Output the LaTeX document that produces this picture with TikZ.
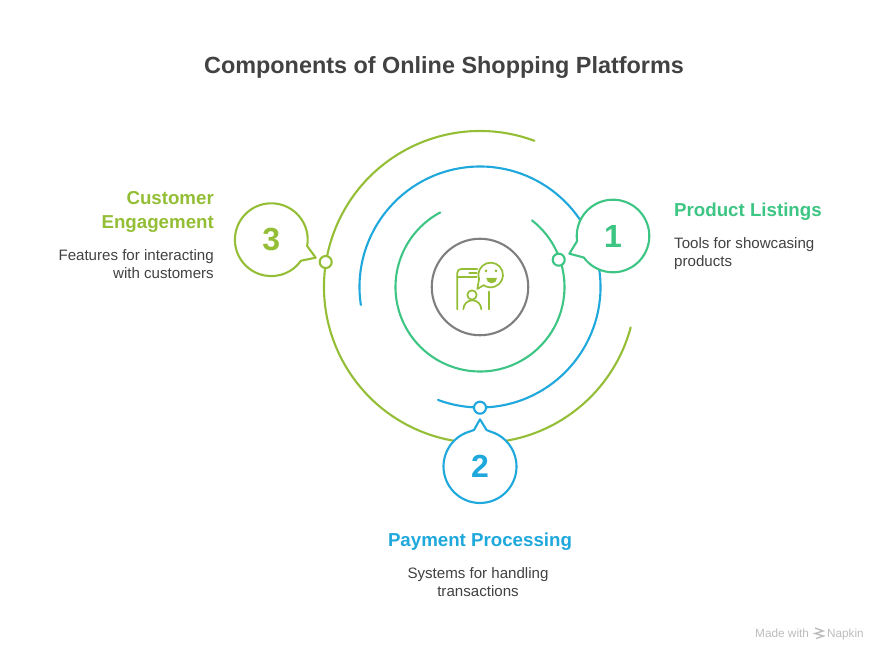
\documentclass[tikz,border=0pt]{standalone}
\usepackage{fontspec}
\setmainfont{Liberation Sans}
\definecolor{cgreen}{HTML}{3CC583}
\definecolor{cblue}{HTML}{1EA8DC}
\definecolor{colive}{HTML}{93BE36}
\definecolor{cgray}{HTML}{7F7F7F}
\definecolor{ctext}{HTML}{424242}
\definecolor{cmark}{HTML}{BDBDBD}
\tikzset{
 ringline/.style={line width=2.1pt,line cap=round,line join=round},
 bubble/.style={ringline,fill=white},
 dotmark/.style={circle,draw,fill=white,line width=2.1pt,minimum size=12pt,inner sep=0pt},
 numtext/.style={inner sep=0pt,font=\bfseries\fontsize{32}{32}\selectfont},
 headtext/.style={inner sep=0pt,font=\bfseries\fontsize{18.7}{24}\selectfont},
 bodytext/.style={inner sep=0pt,text=ctext,font=\fontsize{15.1}{18}\selectfont},
 marktext/.style={inner sep=0pt,text=cmark,font=\fontsize{11.8}{13}\selectfont},
 iconline/.style={draw=colive,line width=1.7pt,line cap=round,line join=round},
}
\begin{document}
\begin{tikzpicture}[x=1pt,y=1pt]
\useasboundingbox (0,0) rectangle (888,661);
\fill[white] (0,0) rectangle (888,661);
\coordinate (c) at (480,374);
% rings
\draw[ringline,cgreen] (c) ++(118:84.5) arc[start angle=118,end angle=412,radius=84.5];
\draw[ringline,cblue] (c) ++(188.6:120.5) arc[start angle=188.6,end angle=-110.4,radius=120.5];
\draw[ringline,colive] (c) ++(69.6:156) arc[start angle=69.6,end angle=345,radius=156];
\node[circle,draw=cgray,line width=2.1pt,minimum size=96.5pt,inner sep=0pt] (hub) at (c) {};
% icon
\begin{scope}[shift={(420,441)},x=0.3333pt,y=-0.3333pt]
 \draw[iconline] (112,268) -- (112,158) to[out=90,in=180] (124,147) -- (172,147);
 \draw[iconline] (148,158) -- (170,158);
 \draw[iconline] (112,172) -- (170,172);
 \draw[iconline] (207,215) -- (207,268);
 \draw[iconline] (177.2,177.65) arc[start angle=160,end angle=484.5,radius=37] -- (172,207) -- cycle;
 \fill[colive] (198,153) circle[radius=4.5];
 \fill[colive] (228,153) circle[radius=4.5];
 \fill[colive] (199,174) -- (231,174) arc[start angle=0,end angle=180,radius=16] -- cycle;
 \draw[iconline] (156,225) circle[radius=14];
 \draw[iconline] (130,268) arc[start angle=180,end angle=360,radius=27];
\end{scope}
% bubbles
\coordinate (b1) at (613,425);
\coordinate (b2) at (480,194.5);
\coordinate (b3) at (271.3,421.3);
\draw[bubble,draw=cgreen] (b1) ++(216.3:36.3) arc[start angle=216.3,end angle=548.2,radius=36.3] -- (569.3,407.3) -- cycle;
\draw[bubble,draw=cblue] (b2) ++(106:36.5) arc[start angle=106,end angle=434,radius=36.5] -- (486.5,231) -- (480,241.7) -- (474,231) -- cycle;
\draw[bubble,draw=colive] (b3) ++(-10:36.4) arc[start angle=-10,end angle=324.7,radius=36.4] -- (315.7,403.3) -- cycle;
\node[numtext,text=cgreen] (n1) at (b1) {1};
\node[numtext,text=cblue] (n2) at (b2) {2};
\node[numtext,text=colive] (n3) at (b3) {3};
\node[dotmark,draw=cgreen] (d1) at (558.7,401.3) {};
\node[dotmark,draw=cblue] (d2) at (480,253.3) {};
\node[dotmark,draw=colive] (d3) at (325.7,399) {};
% texts
\node[inner sep=0pt,text=ctext,font=\bfseries\fontsize{23.4}{30}\selectfont] (title) at (444,593) {Components of Online Shopping Platforms};
\node[headtext,text=cgreen,anchor=west] (h1) at (674,449) {Product Listings};
\node[bodytext,anchor=west,align=left] (t1) at (674,407.5) {Tools for showcasing\\products};
\node[headtext,text=cblue] (h2) at (480,119.5) {Payment Processing};
\node[bodytext,align=center] (t2) at (478,79) {Systems for handling\\transactions};
\node[headtext,text=colive,anchor=east,align=right] (h3) at (214,449) {Customer\\Engagement};
\node[bodytext,anchor=east,align=right] (t3) at (214,397) {Features for interacting\\with customers};
% watermark
\node[marktext,anchor=base west] (m1) at (755,24) {Made with};
\node[marktext,anchor=base east] (m2) at (864,24) {Napkin};
\draw[cmark,line width=1.4pt] (815,33) -- (823,30) -- (815,27.5) -- (823.5,25) -- (816,22.5);
\end{tikzpicture}
\end{document}
